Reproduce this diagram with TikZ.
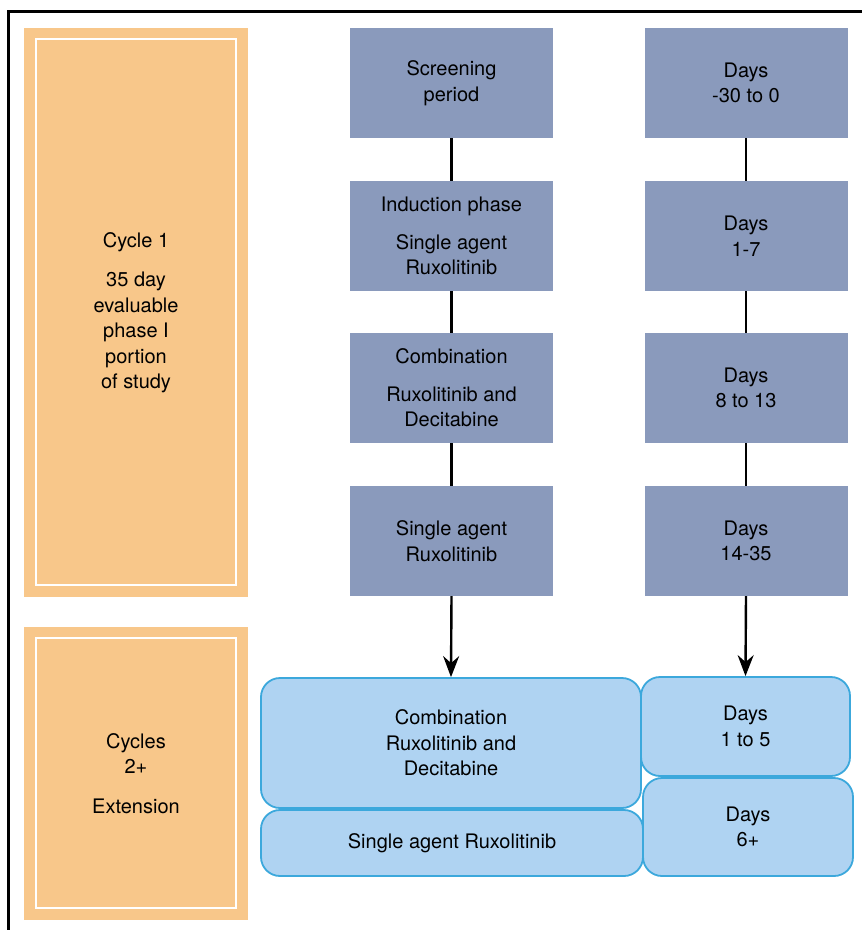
\documentclass[tikz,border=0pt]{standalone}
\usepackage{fontspec}
\setmainfont{TeX Gyre Heros}
\usetikzlibrary{arrows.meta}
\definecolor{grayb}{HTML}{8A9ABC}
\definecolor{orangeb}{HTML}{F8C78A}
\definecolor{bluef}{HTML}{AFD3F2}
\definecolor{blues}{HTML}{3CA8DC}
\tikzset{
  txt/.style={font=\fontsize{20}{25.5}\selectfont, align=center, text=black, inner sep=0pt},
  graybox/.style={txt, fill=grayb, minimum width=203pt, minimum height=110pt},
  orangebox/.style={txt, fill=orangeb, minimum width=224pt},
  bluebox/.style={txt, fill=bluef, draw=blues, line width=1.8pt, rounded corners=19pt},
  conn/.style={line width=2.4pt, black},
  arr/.style={conn, -{Stealth[length=21pt,width=16pt,inset=7pt]}},
  innerline/.style={draw=white, line width=1.6pt},
}
\begin{document}
\begin{tikzpicture}[x=1pt,y=-1pt]
\useasboundingbox (0,0) rectangle (862,930);
\fill[white] (0,0) rectangle (862,930);
% frame
\draw[line width=2.6pt, line cap=rect] (8.5,931) -- (8.5,11.5) -- (863,11.5);

% orange boxes
\node[orangebox, minimum height=569pt] (o1) at (136,312.5) {Cycle 1\\[14pt]35 day\\evaluable\\phase I\\portion\\of study};
\node[orangebox, minimum height=293pt] (o2) at (136,773.5) {Cycles\\2+\\[14pt]Extension};
\draw[innerline] ([shift={(12,11)}]o1.north west) rectangle ([shift={(-12,-12)}]o1.south east);
\draw[innerline] ([shift={(12,11)}]o2.north west) rectangle ([shift={(-12,-12)}]o2.south east);

% gray boxes column 1
\node[graybox] (g1) at (451.5,83) {Screening\\period};
\node[graybox] (g2) at (451.5,236) {Induction phase\\[12pt]Single agent\\Ruxolitinib};
\node[graybox] (g3) at (451.5,388) {Combination\\[12pt]Ruxolitinib and\\Decitabine};
\node[graybox] (g4) at (451.5,541) {Single agent\\Ruxolitinib};

% gray boxes column 2
\node[graybox] (h1) at (746,83) {Days\\-30 to 0};
\node[graybox] (h2) at (746,236) {Days\\1-7};
\node[graybox] (h3) at (746,388) {Days\\8 to 13};
\node[graybox] (h4) at (746,541) {Days\\14-35};

% blue boxes
\node[bluebox, minimum width=380pt, minimum height=130pt] (b1) at (451,743) {Combination\\Ruxolitinib and\\Decitabine};
\node[bluebox, minimum width=382pt, minimum height=66pt] (b2) at (452,843) {Single agent Ruxolitinib};
\node[bluebox, minimum width=209pt, minimum height=99pt] (d1) at (745.5,726.5) {Days\\1 to 5};
\node[bluebox, minimum width=210pt, minimum height=98pt] (d2) at (748,827) {Days\\6+};

% connectors
\draw[conn] (g1.south) -- (g2.north);
\draw[conn] (g2.south) -- (g3.north);
\draw[conn] (g3.south) -- (g4.north);
\draw[conn] (h1.south) -- (h2.north);
\draw[conn] (h2.south) -- (h3.north);
\draw[conn] (h3.south) -- (h4.north);
\draw[arr] (g4.south) -- (b1.north);
\draw[arr] (h4.south) -- (d1.north);
\end{tikzpicture}
\end{document}
